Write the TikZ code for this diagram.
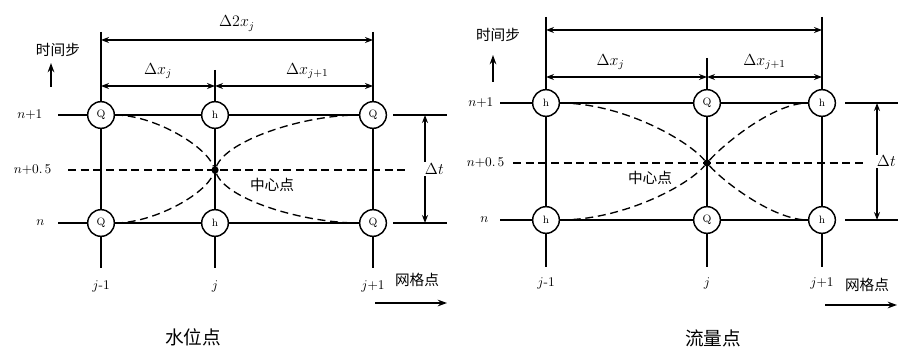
\documentclass[tikz,border=0pt]{standalone}
\usepackage{fontspec}
\usetikzlibrary{arrows.meta,positioning,calc}
\newfontfamily\cjk{Noto Sans CJK SC}
\tikzset{
  ln/.style={line width=1.1pt},
  knot/.style={draw,circle,line width=1.1pt,fill=white,minimum size=20pt,inner sep=0pt,font=\footnotesize},
  cdot/.style={circle,fill,inner sep=0pt,minimum size=5.5pt},
  dl/.style={line width=1pt,dash pattern=on 6pt off 3.5pt},
  dim/.style={{Stealth[length=6pt,width=4.5pt]}-{Stealth[length=6pt,width=4.5pt]},line width=1pt},
  ar/.style={-{Stealth[length=7pt,width=5pt]},line width=1.1pt},
  lab/.style={font=\normalsize,inner sep=1pt},
  mlab/.style={font=\large,inner sep=1pt},
  zh/.style={font=\cjk\fontsize{11}{13}\selectfont,inner sep=1pt},
  ttl/.style={font=\cjk\fontsize{14}{16}\selectfont,inner sep=1pt},
}
\begin{document}
\begin{tikzpicture}[x=0.75pt,y=-0.75pt]
\useasboundingbox (0,0) rectangle (909,349);
\node[knot] (L-a1) at (101,115) {Q};
\node[knot] (L-b1) at (215,115) {h};
\node[knot] (L-c1) at (373,115) {Q};
\node[knot] (L-a0) at (101,223) {Q};
\node[knot] (L-b0) at (215,223) {h};
\node[knot] (L-c0) at (373,223) {Q};
\node[cdot] (L-m) at (215,170) {};
\coordinate (L-at) at (101,32); \coordinate (L-ab) at (101,268);
\coordinate (L-bt) at (215,70); \coordinate (L-bb) at (215,268);
\coordinate (L-ct) at (373,32); \coordinate (L-cb) at (373,268);
\coordinate (L-l1) at (58,115); \coordinate (L-l0) at (58,223);
\coordinate (L-r1) at (393,115); \coordinate (L-e1) at (447,115);
\coordinate (L-r0) at (393,223); \coordinate (L-e0) at (447,223);
\coordinate (L-ml) at (68,170); \coordinate (L-mr) at (410,170);
\coordinate (L-w1) at (101,40); \coordinate (L-w2) at (373,40);
\coordinate (L-u1) at (101,86); \coordinate (L-u2) at (215,86); \coordinate (L-u3) at (373,86);
\coordinate (L-t1) at (425,115); \coordinate (L-t0) at (425,223);
\coordinate (L-s0) at (51,87); \coordinate (L-s1) at (51,63);
\coordinate (L-g0) at (375,303); \coordinate (L-g1) at (447,303);
\draw[ln] (L-at)--(L-a1)--(L-a0)--(L-ab);
\draw[ln] (L-bt)--(L-b1)--(L-b0)--(L-bb);
\draw[ln] (L-ct)--(L-c1)--(L-c0)--(L-cb);
\draw[ln] (L-l1)--(L-a1)--(L-b1)--(L-c1); \draw[ln] (L-r1)--(L-e1);
\draw[ln] (L-l0)--(L-a0)--(L-b0)--(L-c0); \draw[ln] (L-r0)--(L-e0);
\draw[dl] (L-ml)--(L-mr);
\draw[dl] (L-a1.east) .. controls +(38,0) and +(-10,-25) .. (L-m) .. controls +(12,30) and +(-55,0) .. (L-c0.west);
\draw[dl] (L-a0.east) .. controls +(38,0) and +(-10,25) .. (L-m) .. controls +(12,-30) and +(-55,0) .. (L-c1.west);
\draw[dim] (L-w1) -- node[mlab,above=5pt] {$\Delta 2x_j$} (L-w2);
\draw[dim] (L-u1) -- node[mlab,above=4pt] {$\Delta x_j$} (L-u2);
\draw[dim] (L-u2) -- node[mlab,above=4pt,xshift=10pt] {$\Delta x_{j+1}$} (L-u3);
\draw[dim] (L-t1) -- node[mlab,fill=white,xshift=7pt] {$\Delta t$} (L-t0);
\node[lab,anchor=east] (L-n1) at (44,115) {$n$+1};
\node[lab,anchor=east] (L-nh) at (53,170) {$n$+0.\,5};
\node[lab,anchor=east] (L-n0) at (46,223) {$n$};
\node[lab] (L-j0) at (101,286) {$j$-1};
\node[lab] (L-j1) at (215,286) {$j$};
\node[lab] (L-j2) at (373,286) {$j$+1};
\node[zh] (L-step) at (58,50) {时间步};
\draw[ar] (L-s0)--(L-s1);
\node[zh] (L-grid) at (417,280) {网格点};
\draw[ar] (L-g0)--(L-g1);
\node[zh] (L-ctr) at (272,185) {中心点};
\node[ttl] (L-ttl) at (193,337) {水位点};
\node[knot] (R-a1) at (546,103) {h};
\node[knot] (R-b1) at (707,103) {Q};
\node[knot] (R-c1) at (822,103) {h};
\node[knot] (R-a0) at (546,220) {h};
\node[knot] (R-b0) at (707,220) {Q};
\node[knot] (R-c0) at (822,220) {h};
\node[cdot] (R-m) at (707,163) {};
\coordinate (R-at) at (546,17); \coordinate (R-ab) at (546,267);
\coordinate (R-bt) at (707,58); \coordinate (R-bb) at (707,267);
\coordinate (R-ct) at (822,17); \coordinate (R-cb) at (822,267);
\coordinate (R-l1) at (500,103); \coordinate (R-l0) at (500,220);
\coordinate (R-r1) at (845,103); \coordinate (R-e1) at (898,103);
\coordinate (R-r0) at (845,220); \coordinate (R-e0) at (898,220);
\coordinate (R-ml) at (513,163); \coordinate (R-mr) at (865,163);
\coordinate (R-w1) at (546,30); \coordinate (R-w2) at (822,30);
\coordinate (R-u1) at (546,77); \coordinate (R-u2) at (707,77); \coordinate (R-u3) at (822,77);
\coordinate (R-t1) at (877,103); \coordinate (R-t0) at (877,220);
\coordinate (R-s0) at (493,82); \coordinate (R-s1) at (493,55);
\coordinate (R-g0) at (825,305); \coordinate (R-g1) at (897,305);
\draw[ln] (R-at)--(R-a1)--(R-a0)--(R-ab);
\draw[ln] (R-bt)--(R-b1)--(R-b0)--(R-bb);
\draw[ln] (R-ct)--(R-c1)--(R-c0)--(R-cb);
\draw[ln] (R-l1)--(R-a1)--(R-b1)--(R-c1); \draw[ln] (R-r1)--(R-e1);
\draw[ln] (R-l0)--(R-a0)--(R-b0)--(R-c0); \draw[ln] (R-r0)--(R-e0);
\draw[dl] (R-ml)--(R-mr);
\draw[dl] (R-a1.east) .. controls +(60,0) and +(-22,-25) .. (R-m) .. controls +(16,18) and +(-35,0) .. (R-c0.west);
\draw[dl] (R-a0.east) .. controls +(60,0) and +(-22,25) .. (R-m) .. controls +(16,-18) and +(-35,0) .. (R-c1.west);
\draw[dim] (R-w1) -- (R-w2);
\draw[dim] (R-u1) -- node[mlab,above=4pt,xshift=-12pt] {$\Delta x_j$} (R-u2);
\draw[dim] (R-u2) -- node[mlab,above=4pt] {$\Delta x_{j+1}$} (R-u3);
\draw[dim] (R-t1) -- node[mlab,fill=white,xshift=7pt] {$\Delta t$} (R-t0);
\node[lab,anchor=east] (R-n1) at (495,103) {$n$+1};
\node[lab,anchor=east] (R-nh) at (506,163) {$n$+0.\,5};
\node[lab,anchor=east] (R-n0) at (490,220) {$n$};
\node[lab] (R-j0) at (546,283) {$j$-1};
\node[lab] (R-j1) at (707,283) {$j$};
\node[lab] (R-j2) at (822,283) {$j$+1};
\node[zh] (R-step) at (498,35) {时间步};
\draw[ar] (R-s0)--(R-s1);
\node[zh] (R-grid) at (867,285) {网格点};
\draw[ar] (R-g0)--(R-g1);
\node[zh] (R-ctr) at (650,178) {中心点};
\node[ttl] (R-ttl) at (713,338) {流量点};
\end{tikzpicture}
\end{document}
